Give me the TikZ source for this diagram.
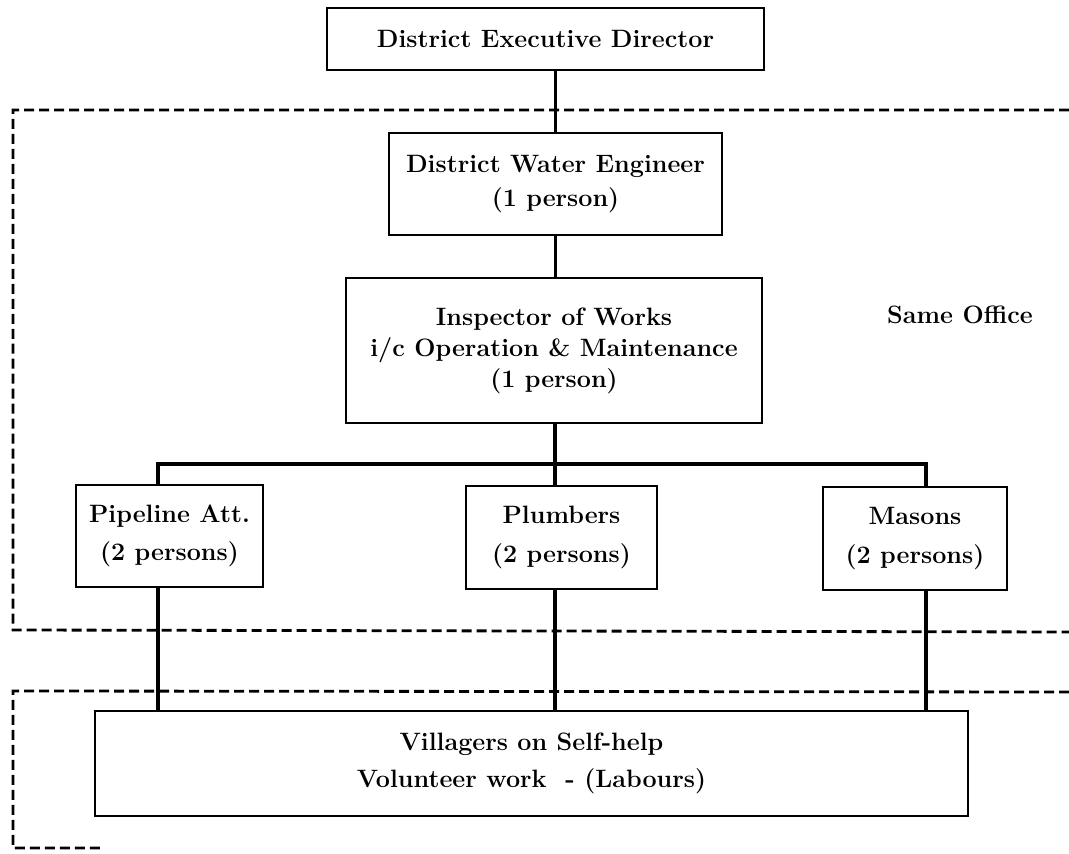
\documentclass[tikz,border=0pt]{standalone}
\begin{document}
\begin{tikzpicture}[x=0.02cm,y=-0.02cm,
  box/.style={draw=black, line width=1.3pt, fill=white, rectangle, inner sep=0pt,
    align=center, font=\fontsize{14.3}{22}\selectfont\bfseries},
  link/.style={draw=black, line width=1.8pt},
  office/.style={draw=black, line width=1.6pt, dash pattern=on 0.2cm off 0.1cm},
  label/.style={inner sep=0pt, font=\fontsize{14.3}{17}\selectfont\bfseries}]
\useasboundingbox (0,0) rectangle (1069,854);

% dashed enclosures
\draw[office] (1069,110) -- (13,110) -- (13,630) -- (1069,632);
\draw[office] (1069,692) -- (13,691) -- (13,848) -- (100,848);

% drop positions of the lower level
\coordinate (xa) at (158,0);
\coordinate (xb) at (555,0);
\coordinate (xc) at (926,0);
\coordinate (bus) at (555,464);

% boxes
\node[box, minimum width=437*0.02cm, minimum height=62*0.02cm] (ded) at (545.5,39)
  {District Executive Director};
\node[box, minimum width=333*0.02cm, minimum height=102*0.02cm,
  font=\fontsize{14.3}{19.4}\selectfont\bfseries] (dwe) at (555.5,184)
  {District Water Engineer\\(1 person)};
\node[box, minimum width=416*0.02cm, minimum height=145*0.02cm,
  font=\fontsize{14.3}{17.6}\selectfont\bfseries] (iow) at (554,350.5)
  {Inspector of Works\\i/c Operation \& Maintenance\\(1 person)};
\node[box, minimum width=187*0.02cm, minimum height=102*0.02cm] (pa) at (169.5,536)
  {Pipeline Att.\\(2 persons)};
\node[box, minimum width=191*0.02cm, minimum height=103*0.02cm] (pl) at (561.5,537.5)
  {Plumbers\\(2 persons)};
\node[box, minimum width=184*0.02cm, minimum height=103*0.02cm] (ma) at (915,538.5)
  {Masons\\(2 persons)};
\node[box, minimum width=873*0.02cm, minimum height=105*0.02cm,
  font=\fontsize{14.3}{21}\selectfont\bfseries] (vil) at (531.5,763.5)
  {Villagers on Self-help\\Volunteer work\ \ - (Labours)};

\node[label] (same) at (960,315) {Same Office};

% connectors
\draw[link] (ded.south -| dwe) -- (dwe.north);
\draw[link] (dwe.south) -- (dwe.south |- iow.north);
\draw[link] (iow.south -| bus) -- (bus);
\draw[link] (xa |- pa.north) -- (xa |- bus) -- (xc |- bus) -- (xc |- ma.north);
\draw[link] (bus) -- (xb |- pl.north);
\draw[link] (xa |- pa.south) -- (xa |- vil.north);
\draw[link] (xb |- pl.south) -- (xb |- vil.north);
\draw[link] (xc |- ma.south) -- (xc |- vil.north);
\end{tikzpicture}
\end{document}
